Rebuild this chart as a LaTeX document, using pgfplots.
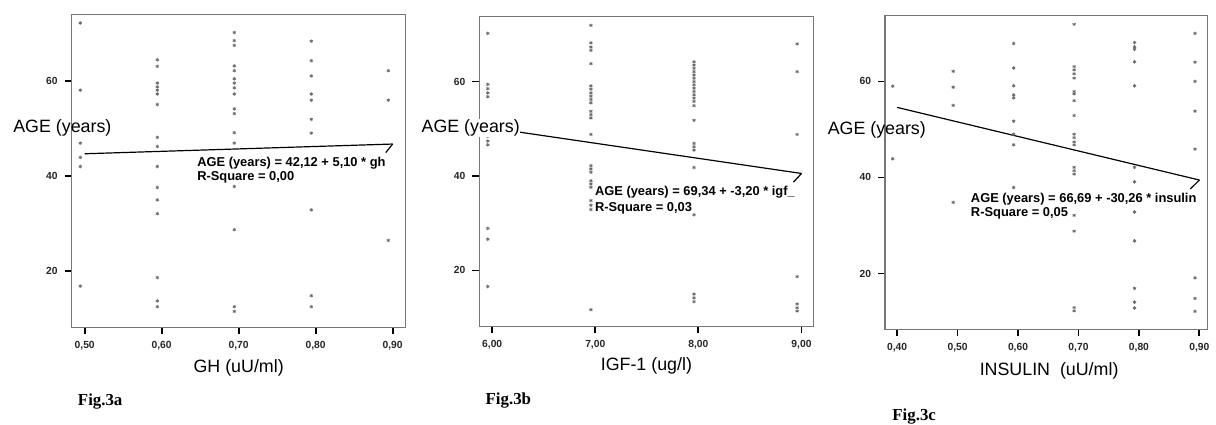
\documentclass[border=0pt]{standalone}
\usepackage{fontspec}
\setmainfont{Liberation Sans}
\newfontfamily\figserif{Liberation Serif}
\usepackage{pgfplots}
\pgfplotsset{compat=1.18}

\definecolor{spine}{RGB}{118,118,118}
\definecolor{dot}{RGB}{105,105,105}

\newcommand\labfont{\fontsize{9}{10}\selectfont}
\newcommand\eqfont{\fontsize{6.5}{7.5}\selectfont\bfseries}
\newcommand\figfont{\figserif\fontsize{8.5}{10}\selectfont\bfseries}

\pgfplotsset{
  scat/.style={
    scale only axis,
    axis line style={spine, line width=0.6bp},
    tick align=outside,
    xtick pos=left, ytick pos=left,
    major tick length=3.5bp,
    tick style={black, line width=0.9bp},
    ytick={20,40,60}, yticklabels={20,40,60},
    tick label style={font=\fontsize{5.2}{6}\selectfont\bfseries, text=black!85},
    clip=false,
  },
  dots/.style={only marks, mark=asterisk, mark size=0.9bp, color=dot,
    mark options={line width=0.35bp, xshift=-2.2bp}},
  fit/.style={black, line width=0.6bp, no marks},
}

\begin{document}
\begin{tikzpicture}
\begin{scope}[x=0.5bp,y=-0.5bp]
  \useasboundingbox (0,0) rectangle (1216,427);
  \coordinate (Aa) at (72,329);
  \coordinate (Ab) at (482,328);
  \coordinate (Ac) at (890,331);
\end{scope}

% Fig.3a
\begin{axis}[scat, at={(Aa)}, anchor=south west, width=168bp, height=157bp,
  xmin=0.483, xmax=0.917, ymin=8.3, ymax=73.8,
  xtick={0.5,0.6,0.7,0.8,0.9},
  xticklabels={{0,50},{0,60},{0,70},{0,80},{0,90}}]
\addplot[dots] coordinates {
 (0.5,72.1) (0.5,58.0) (0.5,46.9) (0.5,43.9) (0.5,42.0) (0.5,16.9)
 (0.6,64.4) (0.6,63.0) (0.6,59.5) (0.6,58.7) (0.6,58.0) (0.6,57.2) (0.6,55.0)
 (0.6,48.1) (0.6,46.2) (0.6,42.0) (0.6,37.6) (0.6,35.0) (0.6,32.1) (0.6,18.7)
 (0.6,13.8) (0.6,12.6)
 (0.7,70.1) (0.7,68.4) (0.7,67.4) (0.7,63.1) (0.7,62.1) (0.7,60.4) (0.7,59.5)
 (0.7,58.5) (0.7,57.2) (0.7,54.1) (0.7,53.1) (0.7,49.1) (0.7,46.9) (0.7,37.8)
 (0.7,28.75) (0.7,12.6) (0.7,11.6)
 (0.8,68.3) (0.8,64.2) (0.8,61.0) (0.8,57.2) (0.8,55.9) (0.8,51.9) (0.8,49.0)
 (0.8,32.9) (0.8,14.9) (0.8,12.6)
 (0.9,62.1) (0.9,55.9) (0.9,26.5)};
\addplot[fit] coordinates {(0.5,44.67) (0.9,46.71)};
\draw[black, line width=0.6bp] (axis cs:0.9,46.71) -- (axis cs:0.891,44.9);
\end{axis}

% Fig.3b
\begin{axis}[scat, at={(Ab)}, anchor=south west, width=168bp, height=155.5bp,
  xmin=5.875, xmax=9.116, ymin=8.2, ymax=73.7,
  xtick={6,7,8,9},
  xticklabels={{6,00},{7,00},{8,00},{9,00}}]
\addplot[dots] coordinates {
 (6,70.2) (6,59.4) (6,58.5) (6,57.6) (6,56.8) (6,48.4) (6,47.4) (6,46.6)
 (6,28.9) (6,26.6) (6,16.6)
 (7,71.9) (7,68.2) (7,67.3) (7,66.6) (7,63.8) (7,59.1) (7,58.4) (7,57.6)
 (7,56.9) (7,56.2) (7,55.5) (7,53.7) (7,53.0) (7,52.3) (7,48.8) (7,42.2)
 (7,41.5) (7,40.8) (7,39.0) (7,38.3) (7,37.6) (7,34.8) (7,33.8) (7,32.9)
 (7,11.7)
 (8,64.2) (8,63.5) (8,62.8) (8,62.1) (8,61.4) (8,60.7) (8,60.0) (8,59.3)
 (8,58.6) (8,57.9) (8,57.2) (8,56.5) (8,55.8) (8,54.9) (8,51.8) (8,46.9)
 (8,46.2) (8,45.5) (8,41.8) (8,31.8) (8,15.0) (8,14.2) (8,13.4)
 (9,68.0) (9,62.1) (9,48.8) (9,18.7) (9,12.9) (9,12.1) (9,11.4)};
\addplot[fit] coordinates {(6,50.14) (9,40.54)};
\draw[black, line width=0.6bp] (axis cs:9,40.54) -- (axis cs:8.922,38.7);
\end{axis}

% Fig.3c
\begin{axis}[scat, at={(Ac)}, anchor=south west, width=162bp, height=157.5bp,
  xmin=0.380, xmax=0.913, ymin=8.4, ymax=73.65,
  xtick={0.4,0.5,0.6,0.7,0.8,0.9},
  xticklabels={{0,40},{0,50},{0,60},{0,70},{0,80},{0,90}}]
\addplot[dots] coordinates {
 (0.4,59.0) (0.4,43.9)
 (0.5,62.1) (0.5,58.8) (0.5,55.0) (0.5,34.8)
 (0.6,67.9) (0.6,62.8) (0.6,59.1) (0.6,57.2) (0.6,56.6) (0.6,51.7) (0.6,49.0)
 (0.6,46.8) (0.6,37.9)
 (0.7,71.9) (0.7,63.1) (0.7,62.4) (0.7,61.6) (0.7,60.7) (0.7,57.9) (0.7,57.4)
 (0.7,56.0) (0.7,52.9) (0.7,49.0) (0.7,48.3) (0.7,47.4) (0.7,46.8) (0.7,42.1)
 (0.7,41.4) (0.7,40.7) (0.7,32.1) (0.7,28.8) (0.7,12.9) (0.7,12.2)
 (0.8,68.1) (0.8,67.2) (0.8,66.7) (0.8,64.1) (0.8,59.1) (0.8,42.1) (0.8,39.1)
 (0.8,32.8) (0.8,26.8) (0.8,16.9) (0.8,14.0) (0.8,12.8)
 (0.9,70.0) (0.9,64.0) (0.9,60.0) (0.9,53.8) (0.9,45.9) (0.9,19.1) (0.9,14.8)
 (0.9,12.1)};
\addplot[fit] coordinates {(0.4,54.59) (0.9,39.46)};
\draw[black, line width=0.6bp] (axis cs:0.9,39.46) -- (axis cs:0.885,37.6);
\end{axis}

\begin{scope}[x=0.5bp,y=-0.5bp]
  % y labels
  \node[anchor=base west, inner sep=0pt, font=\labfont] at (13,133) {AGE (years)};
  \node[anchor=base west, inner sep=0.3pt, fill=white, font=\labfont] at (423,133) {AGE (years)};
  \node[anchor=base west, inner sep=0pt, font=\labfont] at (832,135) {AGE (years)};
  % x labels
  \node[anchor=base, inner sep=0pt, font=\labfont] at (240,375) {GH (uU/ml)};
  \node[anchor=base, inner sep=0pt, font=\labfont] at (650,373) {IGF-1 (ug/l)};
  \node[anchor=base, inner sep=0pt, font=\labfont] at (1055,378) {INSULIN\ \ (uU/ml)};
  % equations
  \node[anchor=base west, inner sep=0pt, font=\eqfont] at (198,167) {AGE (years) = 42,12 + 5,10 * gh};
  \node[anchor=base west, inner sep=0pt, font=\eqfont] at (198,182) {R-Square = 0,00};
  \node[anchor=base west, inner sep=0pt, font=\eqfont] at (598,197) {AGE (years) = 69,34 + -3,20 * igf\_};
  \node[anchor=base west, inner sep=0pt, font=\eqfont] at (598,213) {R-Square = 0,03};
  \node[anchor=base west, inner sep=0pt, font=\eqfont] at (976,204) {AGE (years) = 66,69 + -30,26 * insulin};
  \node[anchor=base west, inner sep=0pt, font=\eqfont] at (976,218) {R-Square = 0,05};
  % figure captions
  \node[anchor=base west, inner sep=0pt, font=\figfont] at (78,408) {Fig.3a};
  \node[anchor=base west, inner sep=0pt, font=\figfont] at (488,407) {Fig.3b};
  \node[anchor=base west, inner sep=0pt, font=\figfont] at (897,423) {Fig.3c};
\end{scope}
\end{tikzpicture}
\end{document}
